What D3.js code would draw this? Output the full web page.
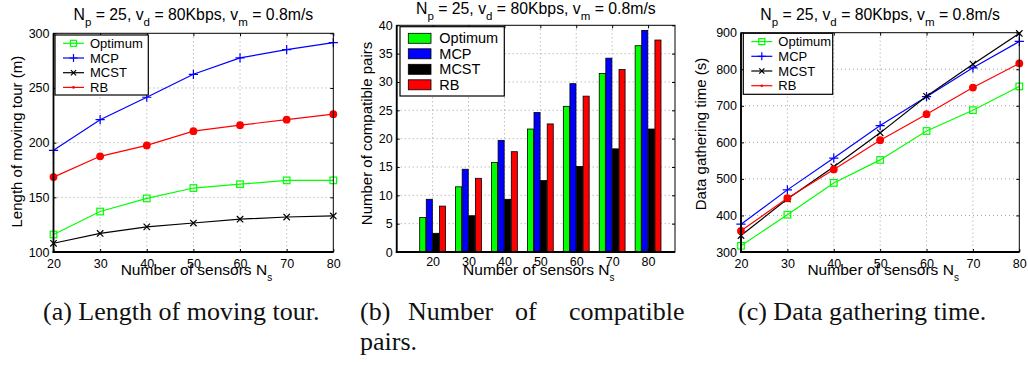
<!DOCTYPE html>
<html>
<head>
<meta charset="utf-8">
<script src="https://cdn.jsdelivr.net/npm/d3@7"></script>
<style>
  body { margin: 0; background: #fff; }
  svg { display: block; font-family: "Liberation Sans", Arial, sans-serif; }
</style>
</head>
<body>
<svg id="fig"></svg>
<script>
// ---- data ----
const sensors = [20, 30, 40, 50, 60, 70, 80];
const seriesNames = ["Optimum", "MCP", "MCST", "RB"];

const tourOptimum = [116, 137, 149, 158.5, 162, 165.5, 165.5];
const tourMCP     = [193, 221, 241.5, 262.5, 277.5, 285, 291.5];
const tourMCST    = [108, 117, 123, 126.5, 130, 132, 133];
const tourRB      = [168.5, 187.5, 197.5, 210.5, 216, 221, 226];

const pairsOptimum = [6.1, 11.5, 15.8, 21.7, 25.7, 31.5, 36.4];
const pairsMCP     = [9.3, 14.6, 19.7, 24.6, 29.7, 34.2, 39.1];
const pairsMCST    = [3.3, 6.4, 9.3, 12.6, 15.1, 18.2, 21.7];
const pairsRB      = [8.1, 13.0, 17.7, 22.6, 27.5, 32.2, 37.4];

const timeOptimum = [317, 402, 489, 552, 631, 688, 753];
const timeMCP     = [376, 470, 557, 646, 725, 804, 876];
const timeMCST    = [345, 445, 533, 626, 726, 814, 898];
const timeRB      = [358, 447, 526, 606, 677, 750, 816];

const tourTicks  = [100, 150, 200, 250, 300];
const pairsTicks = [0, 5, 10, 15, 20, 25, 30, 35, 40];
const timeTicks  = [300, 400, 500, 600, 700, 800, 900];

const colors  = {Optimum: "#00ff00", MCP: "#0000ff", MCST: "#000000", RB: "#ff0000"};
const markers = {Optimum: "square", MCP: "plus", MCST: "cross", RB: "dot"};

let svg = d3.select("#fig").attr("width", 1028).attr("height", 365);

function drawMarker(g, type, cx, cy, color, big) {
  if (type === "square") {
    let s = big ? 6.6 : 6;
    g.append("rect").attr("x", cx - s/2).attr("y", cy - s/2).attr("width", s).attr("height", s)
      .attr("fill", "none").attr("stroke", color).attr("stroke-width", 1.2);
  } else if (type === "plus") {
    let s = big ? 4.6 : 4;
    g.append("path").attr("d", `M${cx - s},${cy}H${cx + s}M${cx},${cy - s}V${cy + s}`)
      .attr("stroke", color).attr("stroke-width", 1.2);
  } else if (type === "cross") {
    let s = big ? 3.2 : 2.6;
    g.append("path").attr("d", `M${cx - s},${cy - s}L${cx + s},${cy + s}M${cx - s},${cy + s}L${cx + s},${cy - s}`)
      .attr("stroke", color).attr("stroke-width", 1.2);
  } else {
    g.append("circle").attr("cx", cx).attr("cy", cy).attr("r", big ? 3.9 : 1.3).attr("fill", color);
  }
}

function title(cx, y) {
  let t = svg.append("text").attr("x", cx).attr("y", y).attr("text-anchor", "middle").style("font-size", "15.8px");
  t.append("tspan").text("N");
  t.append("tspan").attr("dy", 6).style("font-size", "11.5px").text("p");
  t.append("tspan").attr("dy", -6).text(" = 25, v");
  t.append("tspan").attr("dy", 6).style("font-size", "11.5px").text("d");
  t.append("tspan").attr("dy", -6).text(" = 80Kbps, v");
  t.append("tspan").attr("dy", 6).style("font-size", "11.5px").text("m");
  t.append("tspan").attr("dy", -6).text(" = 0.8m/s");
}

function frame(box, x, y, xGrid, yGrid) {
  let g = svg.append("g");
  // dotted grid
  xGrid.forEach(v => g.append("line").attr("x1", x(v)).attr("x2", x(v)).attr("y1", box.top).attr("y2", box.bottom)
    .attr("stroke", "#a0a0a0").attr("stroke-dasharray", "1,3"));
  yGrid.forEach(v => g.append("line").attr("x1", box.left).attr("x2", box.right).attr("y1", y(v)).attr("y2", y(v))
    .attr("stroke", "#a0a0a0").attr("stroke-dasharray", "1,3"));
  return g;
}

function axesOnTop(box, x, y, xTicks, yTicks, xPad) {
  let g = svg.append("g");
  g.append("rect").attr("x", box.left).attr("y", box.top).attr("width", box.right - box.left)
    .attr("height", box.bottom - box.top).attr("fill", "none").attr("stroke", "#000").attr("stroke-width", 1);
  g.append("line").attr("x1", box.left).attr("x2", box.left).attr("y1", box.top).attr("y2", box.bottom + 0.9)
    .attr("stroke", "#000").attr("stroke-width", 1.8);
  g.append("line").attr("x1", box.left - 0.9).attr("x2", box.right).attr("y1", box.bottom).attr("y2", box.bottom)
    .attr("stroke", "#000").attr("stroke-width", 1.8);

  let ya = g.append("g").attr("transform", `translate(${box.left},0)`)
    .call(d3.axisLeft(y).tickValues(yTicks).tickSizeInner(-3).tickSizeOuter(0).tickPadding(4));
  let yr = g.append("g").attr("transform", `translate(${box.right},0)`)
    .call(d3.axisRight(y).tickValues(yTicks).tickSizeInner(-3).tickSizeOuter(0).tickFormat(""));
  let xa = g.append("g").attr("transform", `translate(0,${box.bottom})`)
    .call(d3.axisBottom(x).tickValues(xTicks).tickSizeInner(-3).tickSizeOuter(0).tickPadding(xPad));
  let xt = g.append("g").attr("transform", `translate(0,${box.top})`)
    .call(d3.axisTop(x).tickValues(xTicks).tickSizeInner(-3).tickSizeOuter(0).tickFormat(""));
  [ya, yr, xa, xt].forEach(a => {
    a.select(".domain").remove();
    a.selectAll(".tick line").attr("stroke", "#000");
    a.selectAll("text").style("font-size", "12.5px").style("font-family", "'Liberation Sans', Arial, sans-serif").attr("fill", "#000");
  });
}

function xLabel(cx, y) {
  let t = svg.append("text").attr("x", cx).attr("y", y).attr("text-anchor", "middle").style("font-size", "15.5px");
  t.append("tspan").text("Number of sensors N");
  t.append("tspan").attr("dy", 6).style("font-size", "10px").text("s");
}

function yLabel(x, cy, txt) {
  svg.append("text").attr("transform", `translate(${x},${cy}) rotate(-90)`).attr("text-anchor", "middle")
    .style("font-size", "15px").text(txt);
}

function lineLegend(lx, ly, w, h) {
  let g = svg.append("g");
  g.append("rect").attr("x", lx).attr("y", ly).attr("width", w).attr("height", h)
    .attr("fill", "#fff").attr("stroke", "#000").attr("stroke-width", 1.2);
  seriesNames.forEach((s, i) => {
    let yy = ly + 8.3 + i * 14.7;
    g.append("line").attr("x1", lx + 8).attr("x2", lx + 29).attr("y1", yy).attr("y2", yy)
      .attr("stroke", colors[s]).attr("stroke-width", 1.2);
    drawMarker(g, markers[s], lx + 18.5, yy, colors[s], false);
    g.append("text").attr("x", lx + 35).attr("y", yy + 4.6).style("font-size", "13px").text(s);
  });
}

function linePanel(box, domainY, yTicks, data, legendPos, ylab, ylabPos) {
  let x = d3.scaleLinear().domain([20, 80]).range([box.left, box.right]);
  let y = d3.scaleLinear().domain(domainY).range([box.bottom, box.top]);
  let g = frame(box, x, y, sensors.slice(1, -1), yTicks.slice(1, -1));
  let line = d3.line().x((d, i) => x(sensors[i])).y(d => y(d));
  seriesNames.forEach((s, k) => {
    g.append("path").datum(data[k]).attr("d", line).attr("fill", "none")
      .attr("stroke", colors[s]).attr("stroke-width", 1.2);
    data[k].forEach((v, i) => drawMarker(g, markers[s], x(sensors[i]), y(v), colors[s], true));
  });
  axesOnTop(box, x, y, sensors, yTicks, 7);
  title((box.left + box.right) / 2, box.top - 13);
  xLabel((box.left + box.right) / 2 + 3, 275);
  yLabel(ylabPos[0], ylabPos[1], ylab);
  lineLegend(legendPos[0], legendPos[1], legendPos[2], legendPos[3]);
}

// (a) length of moving tour
linePanel({left: 53.5, right: 333.3, top: 33.3, bottom: 252}, [100, 300], tourTicks,
  [tourOptimum, tourMCP, tourMCST, tourRB], [55, 35, 93.3, 60],
  "Length of moving tour (m)", [22, 141.6]);

// (c) data gathering time
linePanel({left: 741, right: 1019.3, top: 32.7, bottom: 252}, [300, 900], timeTicks,
  [timeOptimum, timeMCP, timeMCST, timeRB], [743.3, 33.3, 89.4, 61],
  "Data gathering time (s)", [706, 134]);

// (b) number of compatible pairs: grouped bars
{
  let box = {left: 396.7, right: 675, top: 25.3, bottom: 252};
  let x = d3.scaleLinear().domain([10, 87.5]).range([box.left, box.right]);
  let y = d3.scaleLinear().domain([0, 40]).range([box.bottom, box.top]);
  let g = frame(box, x, y, sensors, pairsTicks.slice(1, -1));
  let pairs = [pairsOptimum, pairsMCP, pairsMCST, pairsRB];
  let half = x(3.6) - x(0);
  sensors.forEach((v, i) => {
    let inner = d3.scaleBand().domain(seriesNames).range([x(v) - half, x(v) + half]).paddingInner(0.08);
    seriesNames.forEach((s, k) => {
      g.append("rect").attr("x", inner(s)).attr("width", inner.bandwidth())
        .attr("y", y(pairs[k][i])).attr("height", y(0) - y(pairs[k][i]))
        .attr("fill", colors[s]).attr("stroke", "#000").attr("stroke-width", 0.8);
    });
  });
  axesOnTop(box, x, y, sensors, pairsTicks, 5);
  title((box.left + box.right) / 2, box.top - 11.5);
  xLabel((box.left + box.right) / 2 + 3, 275);
  yLabel(372, 133.5, "Number of compatible pairs");
  let lg = svg.append("g");
  lg.append("rect").attr("x", 400).attr("y", 26.7).attr("width", 104.3).attr("height", 69.3)
    .attr("fill", "#fff").attr("stroke", "#000").attr("stroke-width", 1.2);
  seriesNames.forEach((s, i) => {
    let yy = 38.3 + i * 15.5;
    lg.append("rect").attr("x", 408.3).attr("y", yy - 5).attr("width", 22.7).attr("height", 10)
      .attr("fill", colors[s]).attr("stroke", "#000").attr("stroke-width", 0.8);
    lg.append("text").attr("x", 439.3).attr("y", yy + 5).style("font-size", "14.5px").text(s);
  });
}

// sub-figure captions
const captionA = "(a) Length of moving tour.";
const captionB1 = ["(b)", "Number", "of", "compatible"];
const captionB2 = "pairs.";
const captionC = "(c) Data gathering time.";
let cap = svg.append("g").style("font-family", "'Liberation Serif', 'Times New Roman', serif")
  .style("font-size", "26px").attr("fill", "#111");
cap.append("text").attr("x", 43).attr("y", 320).text(captionA);
[360, 408, 515, 569].forEach((px, i) => cap.append("text").attr("x", px).attr("y", 320).text(captionB1[i]));
cap.append("text").attr("x", 360).attr("y", 350).text(captionB2);
cap.append("text").attr("x", 738).attr("y", 320).text(captionC);
</script>
</body>
</html>
